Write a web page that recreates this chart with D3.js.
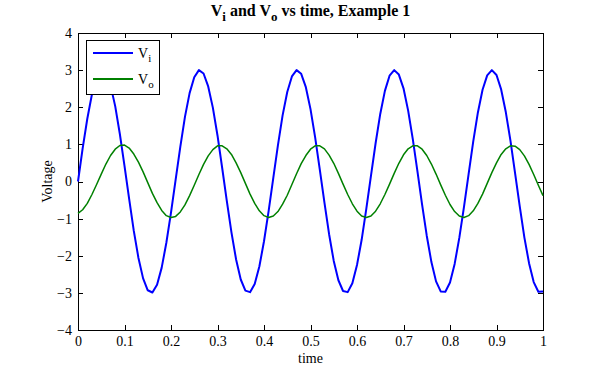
<!DOCTYPE html>
<html>
<head>
<meta charset="utf-8">
<script src="https://cdn.jsdelivr.net/npm/d3@7"></script>
<style>
  body { margin: 0; background: #fff; }
  svg { display: block; }
  text { fill: #000; }
  .axis path, .axis line { stroke: #000; shape-rendering: crispEdges; }
</style>
</head>
<body>
<svg id="chart"></svg>
<script>
var serif = "Liberation Serif, Times New Roman, serif";

// sample times 0..1 s, step 0.01
var time = d3.range(0, 101).map(function(i) { return i / 100; });

// input voltage
var vi = [0.00, 0.89, 1.69, 2.35, 2.80, 2.99, 2.92, 2.59, 2.03, 1.28,
          0.42, -0.47, -1.33, -2.06, -2.61, -2.93, -2.99, -2.78, -2.32, -1.65,
          -0.84, 0.05, 0.93, 1.74, 2.38, 2.81, 3.00, 2.91, 2.56, 1.99,
          1.24, 0.37, -0.52, -1.37, -2.10, -2.64, -2.94, -2.98, -2.76, -2.29,
          -1.61, -0.79, 0.10, 0.98, 1.78, 2.41, 2.83, 3.00, 2.90, 2.54,
          1.95, 1.19, 0.32, -0.57, -1.42, -2.14, -2.66, -2.95, -2.98, -2.74,
          -2.25, -1.57, -0.74, 0.15, 1.03, 1.82, 2.44, 2.85, 3.00, 2.88,
          2.51, 1.91, 1.14, 0.27, -0.62, -1.46, -2.17, -2.69, -2.96, -2.97,
          -2.72, -2.22, -1.52, -0.69, 0.20, 1.08, 1.86, 2.47, 2.86, 3.00,
          2.87, 2.48, 1.87, 1.10, 0.22, -0.67, -1.51, -2.20, -2.71, -2.97,
          -2.96];

// output voltage
var vo = [-0.86, -0.76, -0.59, -0.35, -0.08, 0.20, 0.47, 0.70, 0.87, 0.97,
          0.98, 0.90, 0.74, 0.52, 0.26, -0.03, -0.32, -0.57, -0.78, -0.92,
          -0.97, -0.94, -0.82, -0.63, -0.38, -0.10, 0.19, 0.46, 0.69, 0.86,
          0.96, 0.96, 0.88, 0.73, 0.50, 0.24, -0.05, -0.34, -0.59, -0.79,
          -0.92, -0.97, -0.93, -0.81, -0.61, -0.37, -0.08, 0.21, 0.48, 0.70,
          0.87, 0.96, 0.96, 0.88, 0.71, 0.49, 0.22, -0.07, -0.35, -0.60,
          -0.80, -0.93, -0.97, -0.93, -0.80, -0.60, -0.35, -0.07, 0.22, 0.49,
          0.72, 0.88, 0.96, 0.96, 0.87, 0.70, 0.47, 0.20, -0.09, -0.37,
          -0.62, -0.81, -0.93, -0.97, -0.92, -0.79, -0.59, -0.34, -0.05, 0.24,
          0.50, 0.73, 0.88, 0.96, 0.95, 0.86, 0.69, 0.46, 0.19, -0.10,
          -0.38];

var xTicks = [0, 0.1, 0.2, 0.3, 0.4, 0.5, 0.6, 0.7, 0.8, 0.9, 1];
var yTicks = [-4, -3, -2, -1, 0, 1, 2, 3, 4];

var seriesNames = ["i", "o"];
var seriesColors = ["#0000ff", "#008000"];

var margin = {top: 33, right: 57, bottom: 41, left: 78};
var width = 600 - margin.left - margin.right,
    height = 371 - margin.top - margin.bottom;

var root = d3.select("#chart")
    .attr("width", 600)
    .attr("height", 371)
    .attr("font-family", serif);

var svg = root.append("g")
    .attr("transform", "translate(" + margin.left + "," + margin.top + ")");

var x = d3.scaleLinear().domain([0, 1]).range([0, width]);
var y = d3.scaleLinear().domain([-4, 4]).range([height, 0]);

// axes with inward ticks, box on all sides
function styleAxis(g) {
    g.attr("class", "axis")
        .attr("font-family", serif)
        .attr("font-size", 14);
}

svg.append("g")
    .attr("transform", "translate(0," + height + ")")
    .call(d3.axisBottom(x).tickValues(xTicks).tickSizeInner(-5).tickSizeOuter(0)
        .tickPadding(6).tickFormat(d3.format("")))
    .call(styleAxis);

svg.append("g")
    .call(d3.axisTop(x).tickValues(xTicks).tickSizeInner(-5).tickSizeOuter(0)
        .tickFormat(""))
    .call(styleAxis);

svg.append("g")
    .call(d3.axisLeft(y).tickValues(yTicks).tickSizeInner(-5).tickSizeOuter(0)
        .tickPadding(6).tickFormat(d3.format("")))
    .call(styleAxis);

svg.append("g")
    .attr("transform", "translate(" + width + ",0)")
    .call(d3.axisRight(y).tickValues(yTicks).tickSizeInner(-5).tickSizeOuter(0)
        .tickFormat(""))
    .call(styleAxis);

var line = d3.line()
    .x(function(d) { return x(d[0]); })
    .y(function(d) { return y(d[1]); });

// plot the two traces
[vi, vo].forEach(function(vals, i) {
    svg.append("path")
        .datum(d3.zip(time, vals))
        .attr("fill", "none")
        .attr("stroke", seriesColors[i])
        .attr("stroke-width", i == 0 ? 2 : 1.5)
        .attr("stroke-linejoin", "round")
        .attr("d", line);
});

// title with subscripts
var title = root.append("text")
    .attr("x", margin.left + width / 2)
    .attr("y", 16)
    .attr("text-anchor", "middle")
    .attr("font-weight", "bold")
    .attr("font-size", "16px");
title.append("tspan").text("V");
title.append("tspan").attr("dy", 5).attr("font-size", "13px").text("i");
title.append("tspan").attr("dy", -5).text(" and V");
title.append("tspan").attr("dy", 5).attr("font-size", "13px").text("o");
title.append("tspan").attr("dy", -5).text(" vs time, Example 1");

root.append("text")
    .attr("x", margin.left + width / 2)
    .attr("y", 363)
    .attr("text-anchor", "middle")
    .attr("font-size", "14px")
    .text("time");

root.append("text")
    .attr("transform", "translate(52," + (margin.top + y(0)) + ") rotate(-90)")
    .attr("text-anchor", "middle")
    .attr("font-size", "14px")
    .text("Voltage");

// legend
var legend = svg.append("g")
    .attr("transform", "translate(8,7)");

legend.append("rect")
    .attr("width", 73)
    .attr("height", 54)
    .attr("fill", "#fff")
    .attr("stroke", "#000")
    .attr("shape-rendering", "crispEdges");

seriesNames.forEach(function(name, i) {
    var row = legend.append("g")
        .attr("transform", "translate(0," + (13 + i * 26) + ")");
    row.append("line")
        .attr("x1", 7).attr("x2", 47)
        .attr("stroke", seriesColors[i])
        .attr("stroke-width", 2);
    var t = row.append("text")
        .attr("x", 52)
        .attr("y", 5)
        .attr("font-size", "14px");
    t.append("tspan").text("V");
    t.append("tspan").attr("dy", 4).attr("font-size", "11px").text(name);
});
</script>
</body>
</html>
